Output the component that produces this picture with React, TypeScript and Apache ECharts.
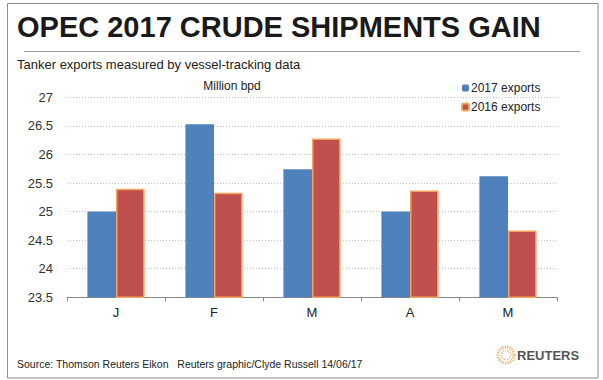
import React, { useEffect, useRef } from "react";
import * as echarts from "echarts";

const categories = ["J", "F", "M", "A", "M"];
const exports2017 = [25.0, 26.53, 25.74, 25.0, 25.62];
const exports2016 = [25.4, 25.33, 26.28, 25.37, 24.67];
const seriesNames = ["2017 exports", "2016 exports"];
const yMin = 23.5;
const yMax = 27;
const yStep = 0.5;

const FONT = "'Liberation Sans', Arial, sans-serif";

export default function App() {
  const ref = useRef<HTMLDivElement>(null);
  useEffect(() => {
    if (!ref.current) return;
    const chart = echarts.init(ref.current, undefined, { renderer: "svg" });
    chart.setOption({
      animation: false,
      backgroundColor: "#ffffff",
      textStyle: { fontFamily: FONT },
      grid: { left: 67, right: 46, top: 97.3, bottom: 82.7, containLabel: false },
      legend: {
        data: seriesNames,
        orient: "vertical",
        left: 456,
        top: 77,
        itemWidth: 7,
        itemHeight: 7,
        itemGap: 7,
        textStyle: { fontSize: 12, color: "#222", fontFamily: FONT, padding: [0, 0, 0, -3] },
      },
      xAxis: {
        type: "category",
        data: categories,
        axisLine: { show: true, lineStyle: { color: "#888", width: 1 } },
        axisTick: { show: true, length: 4, lineStyle: { color: "#888" } },
        axisLabel: { fontSize: 13, color: "#222", margin: 9, fontFamily: FONT },
      },
      yAxis: {
        type: "value",
        min: yMin,
        max: yMax,
        interval: yStep,
        axisLine: { show: false },
        axisTick: { show: false },
        axisLabel: { fontSize: 13, color: "#333", margin: 14, fontFamily: FONT },
        splitLine: { lineStyle: { color: "#c4c4c4", type: [1, 2], width: 1 } },
      },
      series: [
        {
          name: seriesNames[0],
          type: "bar",
          data: exports2017,
          barWidth: 28.6,
          barGap: "0%",
          itemStyle: { color: "#4F81BD" },
        },
        {
          name: seriesNames[1],
          type: "bar",
          data: exports2016,
          barWidth: 28.6,
          barGap: "0%",
          itemStyle: { color: "#C0504D", borderColor: "#F2A361", borderWidth: 1.5 },
        },
      ],
      graphic: [
        {
          type: "rect",
          shape: { x: 7.5, y: 3.5, width: 590.5, height: 374.5 },
          style: { fill: "none", stroke: "#8c8c8c", lineWidth: 1 },
          silent: true,
        },
        {
          type: "text",
          x: 17,
          y: 26.5,
          style: {
            text: "OPEC 2017 CRUDE SHIPMENTS GAIN",
            fontFamily: FONT,
            fontWeight: "bold",
            fontSize: 29,
            fill: "#1a1a1a",
            textVerticalAlign: "middle",
          },
        },
        {
          type: "line",
          shape: { x1: 24, y1: 51.5, x2: 580, y2: 51.5 },
          style: { stroke: "#9a9a9a", lineWidth: 1 },
        },
        {
          type: "text",
          x: 17,
          y: 64,
          style: {
            text: "Tanker exports measured by vessel-tracking data",
            fontFamily: FONT,
            fontSize: 13,
            fill: "#222",
            textVerticalAlign: "middle",
          },
        },
        {
          type: "text",
          x: 232,
          y: 86,
          style: {
            text: "Million bpd",
            fontFamily: FONT,
            fontSize: 12,
            fill: "#222",
            textAlign: "center",
            textVerticalAlign: "middle",
          },
        },
        {
          type: "text",
          x: 17,
          y: 364,
          style: {
            text: "Source: Thomson Reuters Eikon   Reuters graphic/Clyde Russell 14/06/17",
            fontFamily: FONT,
            fontSize: 10.5,
            fill: "#222",
            textVerticalAlign: "middle",
          },
        },
        {
          type: "circle",
          shape: { cx: 506, cy: 355, r: 8 },
          style: { fill: "none", stroke: "#F5B47A", lineWidth: 3, lineDash: [1.2, 1.2] },
        },
        {
          type: "circle",
          shape: { cx: 506, cy: 355, r: 4.5 },
          style: { fill: "none", stroke: "#F2A15A", lineWidth: 1.5, lineDash: [1, 1.5] },
        },
        {
          type: "text",
          x: 517,
          y: 355,
          style: {
            text: "REUTERS",
            fontFamily: FONT,
            fontWeight: "bold",
            fontSize: 13,
            fill: "#555",
            textVerticalAlign: "middle",
          },
        },
      ],
    });
    return () => chart.dispose();
  }, []);
  return (
    <div
      ref={ref}
      style={{ position: "fixed", left: 0, top: 0, width: 603, height: 380 }}
    />
  );
}
